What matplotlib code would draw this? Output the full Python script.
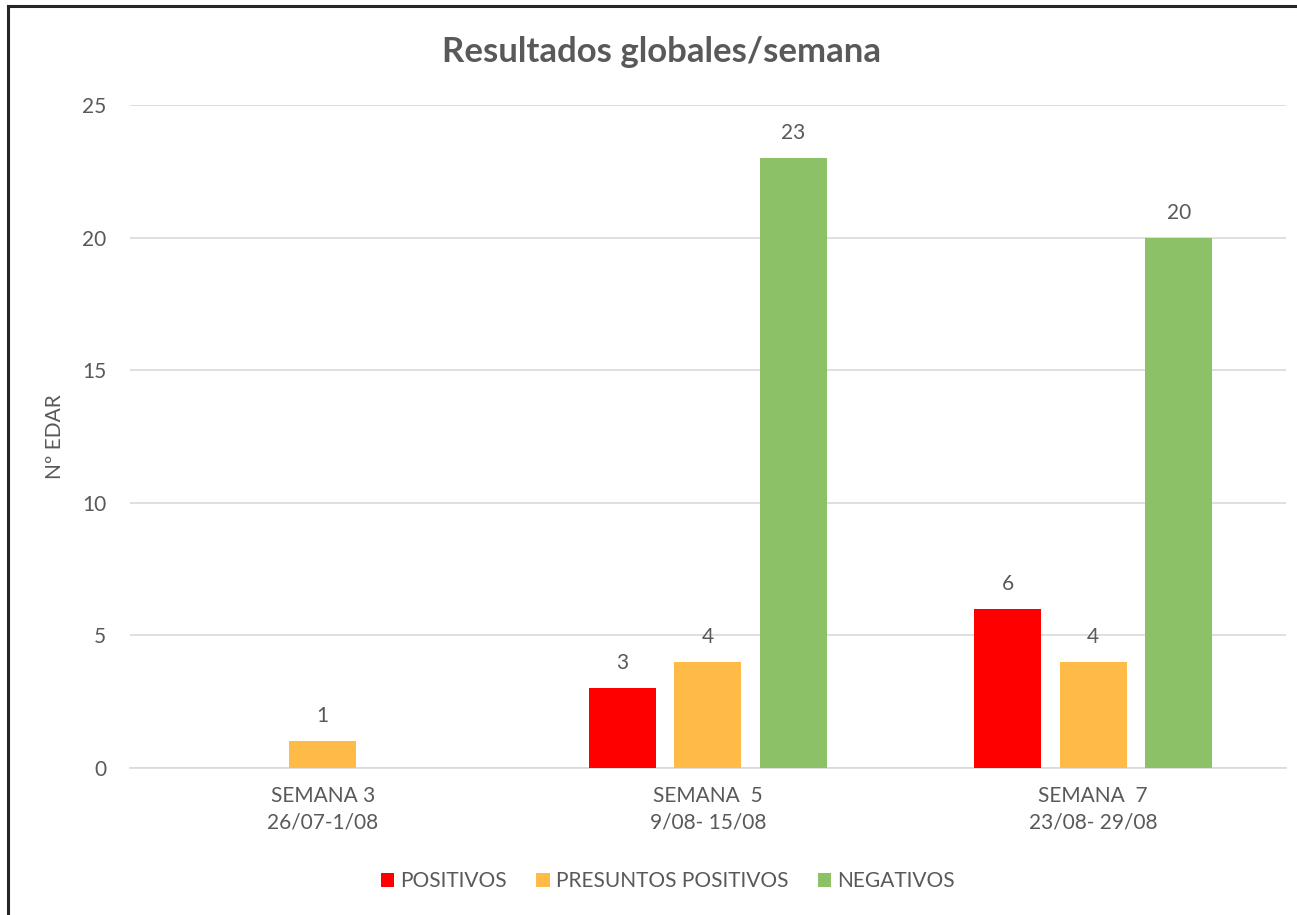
import matplotlib.pyplot as plt
from matplotlib.lines import Line2D
import numpy as np

plt.rcParams['font.family'] = ['Lato', 'DejaVu Sans']

semanas = ['SEMANA 3\n26/07-1/08', 'SEMANA  5\n9/08- 15/08', 'SEMANA  7\n23/08- 29/08']
series = ['POSITIVOS', 'PRESUNTOS POSITIVOS', 'NEGATIVOS']
positivos = [np.nan, 3, 6]
presuntos = [1, 4, 4]
negativos = [np.nan, 23, 20]
colores = ['#FF0000', '#FFBA47', '#8CC168']

gris = '#595959'

fig = plt.figure(figsize=(12.97, 9.15), dpi=100)
ax = fig.add_axes([0.1002, 0.1607, 0.8913, 0.7246])

x = np.arange(len(semanas))
ancho = 0.174
paso = 0.222
for i, (vals, nombre) in enumerate(zip([positivos, presuntos, negativos], series)):
    pos = x + (i - 1) * paso
    ax.bar(pos, vals, ancho, color=colores[i], label=nombre, zorder=3)
    for p, v in zip(pos, vals):
        if not np.isnan(v):
            ax.annotate(str(v), (p, v), xytext=(0, 18), textcoords='offset points',
                        ha='center', va='center', fontsize=15, color=gris)

ax.set_xlim(-0.5, 2.5)
ax.set_ylim(0, 25)
ax.set_yticks([0, 5, 10, 15, 20, 25])
ax.set_xticks(x)
ax.set_xticklabels(semanas, fontsize=15, color=gris, linespacing=1.4)
ax.tick_params(axis='y', labelsize=15, labelcolor=gris, length=0, pad=17)
ax.tick_params(axis='x', length=0, pad=13)
ax.grid(axis='y', color='#D9D9D9', linewidth=1.2, zorder=0)
for s in ['top', 'right', 'left']:
    ax.spines[s].set_visible(False)
ax.spines['bottom'].set_color('#D9D9D9')
ax.spines['bottom'].set_linewidth(1.2)

ax.set_ylabel('Nº EDAR', fontsize=15, color=gris, labelpad=12)
fig.text(0.51, 0.932, 'Resultados globales/semana', ha='center', va='baseline',
         fontsize=25, fontweight='bold', color=gris)

fig.legend(loc='center', bbox_to_anchor=(0.515, 0.037), ncol=3, frameon=False,
           fontsize=15, labelcolor=gris, handlelength=0.65, handleheight=0.65,
           handletextpad=0.3, columnspacing=1.4)

# marco (solo arriba e izquierda visibles)
fig.add_artist(Line2D([0.0065, 0.0065], [0, 0.9935], color='#262626', linewidth=2.2))
fig.add_artist(Line2D([0.0065, 1.0], [0.9935, 0.9935], color='#262626', linewidth=2.2))

fig.savefig('out.png', dpi=100)
